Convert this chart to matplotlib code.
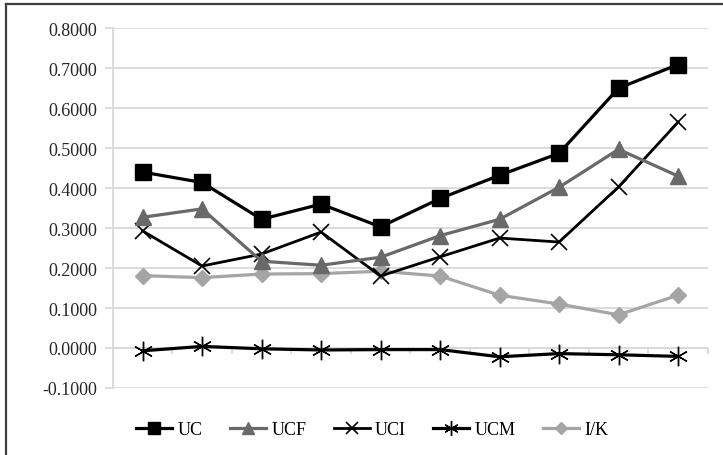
import numpy as np
import matplotlib
matplotlib.use('Agg')
import matplotlib.pyplot as plt
from matplotlib.lines import Line2D
from matplotlib.ticker import FormatStrFormatter, FixedLocator

plt.rc('font', family='Liberation Serif', size=13)

# series values, 10 categories (no category labels on the chart)
uc = [0.440, 0.414, 0.322, 0.360, 0.303, 0.374, 0.432, 0.487, 0.650, 0.709]
ucf = [0.327, 0.348, 0.217, 0.207, 0.227, 0.281, 0.322, 0.402, 0.497, 0.430]
uci = [0.293, 0.205, 0.235, 0.290, 0.180, 0.228, 0.275, 0.265, 0.403, 0.565]
ucm = [-0.007, 0.004, -0.002, -0.005, -0.004, -0.004, -0.022, -0.014, -0.017, -0.021]
ik = [0.181, 0.176, 0.185, 0.186, 0.192, 0.180, 0.132, 0.110, 0.083, 0.132]
names = ['UC', 'UCF', 'UCI', 'UCM', 'I/K']

x = np.arange(len(uc))

fig = plt.figure(figsize=(7.23, 4.56), dpi=100)
ax = fig.add_axes([0.156, 0.147, 0.823, 0.789])

grid_c = '#d9d9d9'
l1, = ax.plot(x, uc, color='black', lw=2.3, marker='s', ms=12, zorder=6)
l2, = ax.plot(x, ucf, color='#696969', lw=2.3, marker='^', ms=11, zorder=5)
l3, = ax.plot(x, uci, color='black', lw=2.0, marker='x', ms=11, mew=1.2, zorder=4)
l4, = ax.plot(x, ucm, color='black', lw=2.3, marker=(6, 2, 0), ms=14, mew=1.0, zorder=4)
l5, = ax.plot(x, ik, color='#a5a5a5', lw=2.3, marker='D', ms=8, zorder=3)

ax.set_xlim(-0.5, 9.5)
ax.set_ylim(-0.1, 0.8)
ax.set_yticks(np.arange(-0.1, 0.81, 0.1))
ax.yaxis.set_major_formatter(FormatStrFormatter('%.4f'))
ax.xaxis.set_major_locator(FixedLocator(np.arange(-0.5, 10, 1)))
ax.set_xticklabels([])

ax.grid(axis='y', color=grid_c, lw=1.3)
ax.set_axisbelow(True)
for s in ['top', 'right']:
    ax.spines[s].set_visible(False)
ax.spines['left'].set_color(grid_c)
ax.spines['left'].set_linewidth(1.3)
ax.spines['bottom'].set_position(('data', 0))
ax.spines['bottom'].set_color(grid_c)
ax.spines['bottom'].set_linewidth(1.3)
ax.tick_params(axis='y', length=6, color=grid_c, width=1.3, labelcolor='#262626', pad=5)
ax.tick_params(axis='x', length=4, color=grid_c, width=1.3, direction='out')

fig.legend([l1, l2, l3, l4, l5], names, loc='center', ncol=5,
           bbox_to_anchor=(0.515, 0.055), frameon=False, markerscale=0.75,
           handlelength=2.0, handletextpad=0.3, columnspacing=1.5, fontsize=13)

# chart area border (left and top visible)
fig.add_artist(Line2D([0.008, 0.008], [0, 0.989], color='#404040', lw=1.6))
fig.add_artist(Line2D([0.008, 1.0], [0.989, 0.989], color='#404040', lw=1.6))

fig.savefig('out.png', dpi=100)
